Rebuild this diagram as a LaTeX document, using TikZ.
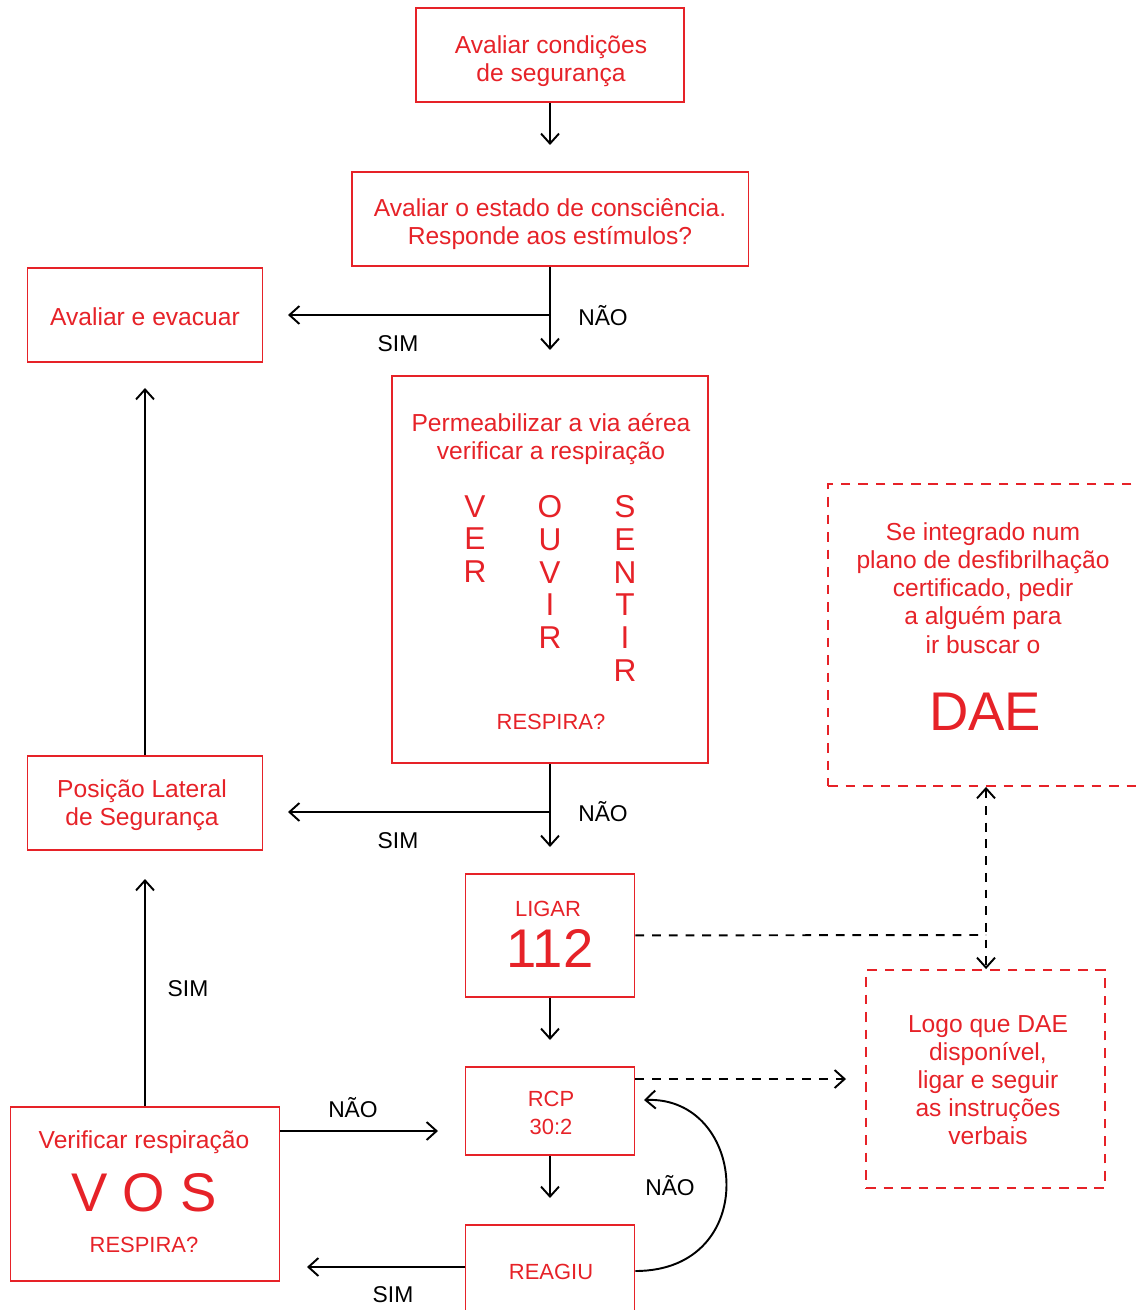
\documentclass[tikz,border=0pt]{standalone}
\usepackage{fontspec}
\setmainfont{Liberation Sans}
\usetikzlibrary{arrows.meta}
\definecolor{cruz}{RGB}{230,34,40}

\tikzset{
  caixa/.style={draw=cruz, line width=1.1pt, inner sep=0pt},
  caixatrac/.style={caixa, dash pattern=on 5.5pt off 4.5pt},
  texto/.style={text=cruz, align=center, inner sep=0pt, font=\fontsize{14}{16}\selectfont},
  maiusc/.style={text=cruz, align=center, inner sep=0pt, font=\fontsize{12.5}{16.4}\selectfont},
  grande/.style={text=cruz, align=center, inner sep=0pt, font=\fontsize{31}{31}\selectfont},
  letras/.style={text=cruz, align=center, inner sep=0pt, font=\fontsize{18}{18.7}\selectfont},
  rotulo/.style={inner sep=0pt, font=\fontsize{13}{16}\selectfont},
  seta/.style={line width=1.1pt, -{Straight Barb[length=2mm,width=3.6mm]}},
  tracejado/.style={line width=1.1pt, dash pattern=on 5pt off 4.5pt}
}

\begin{document}
\begin{tikzpicture}[x=0.02cm,y=-0.02cm]
            \useasboundingbox (0,0) rectangle (1138,1310);

            \node[caixa, minimum width=5.36cm, minimum height=1.88cm] (seguranca) at (550,55) {};
            \node[texto] (tseguranca) at (551,61) {Avaliar condições\\de segurança};
            \node[caixa, minimum width=7.94cm, minimum height=1.88cm] (consciencia) at (550,219) {};
            \node[texto] (tconsciencia) at (550,224) {Avaliar o estado de consciência.\\Responde aos estímulos?};
            \node[caixa, minimum width=4.7cm, minimum height=1.88cm] (evacuar) at (145,315) {};
            \node[texto] (tevacuar) at (145,317) {Avaliar e evacuar};

            \node[caixa, minimum width=6.32cm, minimum height=7.74cm] (via) at (550,569.5) {};
            \node[texto] (tvia) at (551,439) {Permeabilizar a via aérea\\verificar a respiração};
            \node[letras] (ver) at (475,539) {V\\E\\R};
            \node[letras] (ouvir) at (550,572) {O\\U\\V\\I\\R};
            \node[letras] (sentir) at (625,588.5) {S\\E\\N\\T\\I\\R};
            \node[maiusc] (respira) at (551,722) {RESPIRA?};

            \node[caixatrac, minimum width=6.34cm, minimum height=6.04cm] (dae) at (986.5,635) {};
            \node[texto] (tdae) at (983,588) {Se integrado num\\plano de desfibrilhação\\certificado, pedir\\a alguém para\\ir buscar o};
            \node[grande] (daegrande) at (985,712) {DAE};

            \node[caixa, minimum width=4.7cm, minimum height=1.88cm] (lateral) at (145,803) {};
            \node[texto] (tlateral) at (142,805) {Posição Lateral\\de Segurança};

            \node[caixa, minimum width=3.38cm, minimum height=2.46cm] (ligar) at (550,935.5) {};
            \node[maiusc] (tligar) at (548,909) {LIGAR};
            \node[grande] (numero) at (550,948) {112};

            \node[caixa, minimum width=3.38cm, minimum height=1.76cm] (rcp) at (550,1111) {};
            \node[maiusc] (trcp) at (551,1113) {RCP\\30:2};

            \node[caixatrac, minimum width=4.78cm, minimum height=4.36cm] (logo) at (985.5,1079) {};
            \node[texto] (tlogo) at (988,1080) {Logo que DAE\\disponível,\\ligar e seguir\\as instruções\\verbais};

            \node[caixa, minimum width=5.38cm, minimum height=3.48cm] (vos) at (145,1194) {};
            \node[texto] (tvos) at (144,1142) {Verificar respiração};
            \node[grande] (vosgrande) at (144,1193) {V O S};
            \node[maiusc] (respiravos) at (144,1245) {RESPIRA?};

            \node[caixa, minimum width=3.38cm, minimum height=1.84cm] (reagiu) at (550,1271) {};
            \node[maiusc] (treagiu) at (551,1272) {REAGIU};

            \coordinate (c1) at (550,145);
            \coordinate (c2) at (550,350);
            \coordinate (r1) at (550,315);
            \coordinate (c3) at (288,315);
            \coordinate (c4) at (550,847);
            \coordinate (r2) at (550,812);
            \coordinate (c5) at (288,812);
            \coordinate (c6) at (145,388);
            \coordinate (c7) at (145,879);
            \coordinate (c8) at (438,1131);
            \coordinate (c9) at (550,1040);
            \coordinate (c10) at (550,1198);
            \coordinate (c11) at (307,1267);
            \coordinate (c12) at (644,1100);
            \coordinate (j1) at (986,935);
            \coordinate (c13) at (846,1079);

            \draw[seta] (seguranca) -- (c1);
            \draw[seta] (consciencia) -- (c2);
            \draw[seta] (r1) -- (c3);
            \node[rotulo] (nao1) at (603,316) {NÃO};
            \node[rotulo] (sim1) at (398,344) {SIM};

            \draw[seta] (via) -- (c4);
            \draw[seta] (r2) -- (c5);
            \node[rotulo] (nao2) at (603,812) {NÃO};
            \node[rotulo] (sim2) at (398,841) {SIM};

            \draw[seta] (lateral) -- (c6);
            \draw[seta] (vos) -- (c7);
            \node[rotulo] (sim3) at (188,989) {SIM};
            \draw[seta] (vos.east |- c8) -- (c8);
            \node[rotulo] (nao3) at (353,1108) {NÃO};

            \draw[seta] (ligar) -- (c9);
            \draw[seta] (rcp) -- (c10);
            \draw[seta] (reagiu.west |- c11) -- (c11);
            \node[rotulo] (sim4) at (393,1295) {SIM};
            \draw[seta] (reagiu.east) .. controls (762,1271) and (748,1096) .. (c12);
            \node[rotulo] (nao4) at (670,1186) {NÃO};

            \draw[tracejado] (ligar) -- (j1);
            \draw[tracejado, seta, {Straight Barb[length=2mm,width=3.6mm]}-{Straight Barb[length=2mm,width=3.6mm]}] (dae.south -| j1) -- (logo.north -| j1);
            \draw[tracejado, seta] (rcp.east |- c13) -- (c13);
        \end{tikzpicture}
\end{document}
